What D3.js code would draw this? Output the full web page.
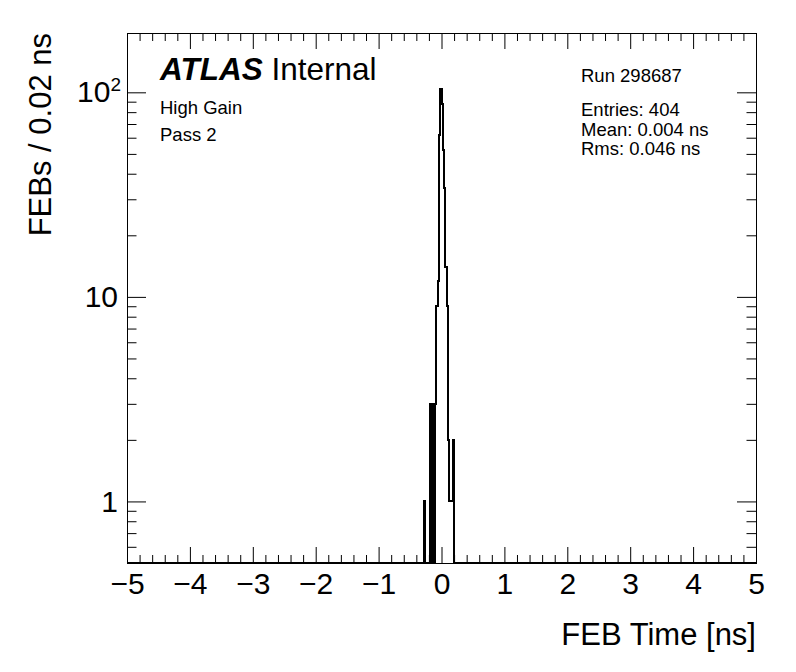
<!DOCTYPE html>
<html>
<head>
<meta charset="utf-8">
<script src="https://cdn.jsdelivr.net/npm/d3@7"></script>
<style>
  body { margin: 0; background: #fff; }
  text { font-family: "Liberation Sans", Arial, Helvetica, sans-serif; fill: #000; }
</style>
</head>
<body>
<svg id="chart" width="796" height="672"></svg>
<script>
// histogram: FEB time, 0.02 ns bins between -5 and 5 ns
const xRange = [-5, 5];
const binWidth = 0.02;
// lower edges of the non-empty bins and their contents
const binLow = [-0.28, -0.18, -0.14, -0.10, -0.08, -0.06, -0.04, -0.02, 0.00, 0.02, 0.04, 0.06, 0.08, 0.10, 0.12, 0.14, 0.16, 0.18];
const counts = [1, 3, 3, 3, 9, 12, 62, 104, 88, 52, 34, 14, 9, 2, 1, 1, 1, 2];

const yRange = [0.5, 195];
const xTicks = [-5, -4, -3, -2, -1, 0, 1, 2, 3, 4, 5];
const yTicks = [1, 10, 100];
const yLabels = ['1', '10', '10'];
const statLines = ['Entries: 404', 'Mean: 0.004 ns', 'Rms: 0.046 ns'];

const W = 796, H = 672;
const margin = {left: 127, right: 40, top: 33, bottom: 109};
const w = W - margin.left - margin.right;
const h = H - margin.top - margin.bottom;

const svg = d3.select('#chart');
const g = svg.append('g').attr('transform', `translate(${margin.left},${margin.top})`);

const x = d3.scaleLinear().domain(xRange).range([0, w]);
const y = d3.scaleLog().domain(yRange).range([h, 0]);

// fill all bins
const nBins = Math.round((xRange[1] - xRange[0]) / binWidth);
const full = new Array(nBins).fill(0);
binLow.forEach((lo, i) => {
  const idx = Math.round((lo - xRange[0]) / binWidth);
  full[idx] = counts[i];
});

const pts = [];
full.forEach((v, i) => {
  const lo = xRange[0] + i * binWidth;
  pts.push([lo, v]);
  pts.push([lo + binWidth, v]);
});

const line = d3.line()
  .x(d => x(d[0]))
  .y(d => d[1] > 0 ? y(d[1]) : y(yRange[0]));

g.append('path')
  .datum(pts)
  .attr('d', line)
  .attr('fill', 'none')
  .attr('stroke', '#000')
  .attr('stroke-width', 2)
  .attr('shape-rendering', 'crispEdges');

// minor tick values
const xMinor = d3.range(-5, 5.0001, 0.2).map(v => +v.toFixed(2)).filter(v => !xTicks.includes(v));
const yMinor = [];
[0.1, 1, 10, 100].forEach(dec => {
  for (let k = 2; k <= 9; k++) {
    const v = k * dec;
    if (v > yRange[0] && v < yRange[1]) yMinor.push(v);
  }
});

const styleAxis = sel => {
  sel.select('.domain').remove();
  sel.selectAll('line').attr('stroke', '#000').attr('stroke-width', 1);
};

// x axis bottom
g.append('g')
  .attr('transform', `translate(0,${h})`)
  .call(d3.axisBottom(x).tickValues(xTicks).tickSize(-16).tickPadding(10)
    .tickFormat(d => d < 0 ? '\u2212' + Math.abs(d) : String(d)))
  .call(styleAxis)
  .selectAll('text').attr('font-size', 30);

g.append('g')
  .attr('transform', `translate(0,${h})`)
  .call(d3.axisBottom(x).tickValues(xMinor).tickSize(-8).tickFormat(''))
  .call(styleAxis);

// x axis top
g.append('g')
  .call(d3.axisTop(x).tickValues(xTicks).tickSize(-16).tickFormat(''))
  .call(styleAxis);
g.append('g')
  .call(d3.axisTop(x).tickValues(xMinor).tickSize(-8).tickFormat(''))
  .call(styleAxis);

// y axis left
const yAx = g.append('g')
  .call(d3.axisLeft(y).tickValues(yTicks).tickSize(-19).tickPadding(9)
    .tickFormat((d, i) => yLabels[i]))
  .call(styleAxis);
yAx.selectAll('text').attr('font-size', 30);
yAx.selectAll('text').filter(d => d === 100)
  .attr('dx', 3)
  .append('tspan')
  .attr('font-size', 19)
  .attr('dy', '-0.6em')
  .text('2');

g.append('g')
  .call(d3.axisLeft(y).tickValues(yMinor).tickSize(-9.5).tickFormat(''))
  .call(styleAxis);

// y axis right
g.append('g')
  .attr('transform', `translate(${w},0)`)
  .call(d3.axisRight(y).tickValues(yTicks).tickSize(-19).tickFormat(''))
  .call(styleAxis);
g.append('g')
  .attr('transform', `translate(${w},0)`)
  .call(d3.axisRight(y).tickValues(yMinor).tickSize(-9.5).tickFormat(''))
  .call(styleAxis);

// frame
g.append('rect')
  .attr('width', w).attr('height', h)
  .attr('fill', 'none').attr('stroke', '#000').attr('stroke-width', 1)
  .attr('shape-rendering', 'crispEdges');

// axis titles
svg.append('text')
  .attr('x', margin.left + w).attr('y', 645)
  .attr('text-anchor', 'end').attr('font-size', 31)
  .text('FEB Time [ns]');

svg.append('text')
  .attr('transform', `translate(51,${margin.top}) rotate(-90)`)
  .attr('text-anchor', 'end').attr('font-size', 31)
  .text('FEBs / 0.02 ns');

// labels
const atlas = svg.append('text').attr('x', 160).attr('y', 80).attr('font-size', 31.5);
atlas.append('tspan').attr('font-weight', 'bold').attr('font-style', 'italic').text('ATLAS');
atlas.append('tspan').text(' Internal');

svg.append('text').attr('x', 160).attr('y', 114).attr('font-size', 18.5).text('High Gain');
svg.append('text').attr('x', 160).attr('y', 141).attr('font-size', 18.5).text('Pass 2');

svg.append('text').attr('x', 581).attr('y', 82).attr('font-size', 18.5).text('Run 298687');
svg.selectAll('.stat')
  .data(statLines)
  .join('text')
  .attr('class', 'stat')
  .attr('x', 581)
  .attr('y', (d, i) => 116 + i * 19.5)
  .attr('font-size', 18.5)
  .text(d => d);
</script>
</body>
</html>
